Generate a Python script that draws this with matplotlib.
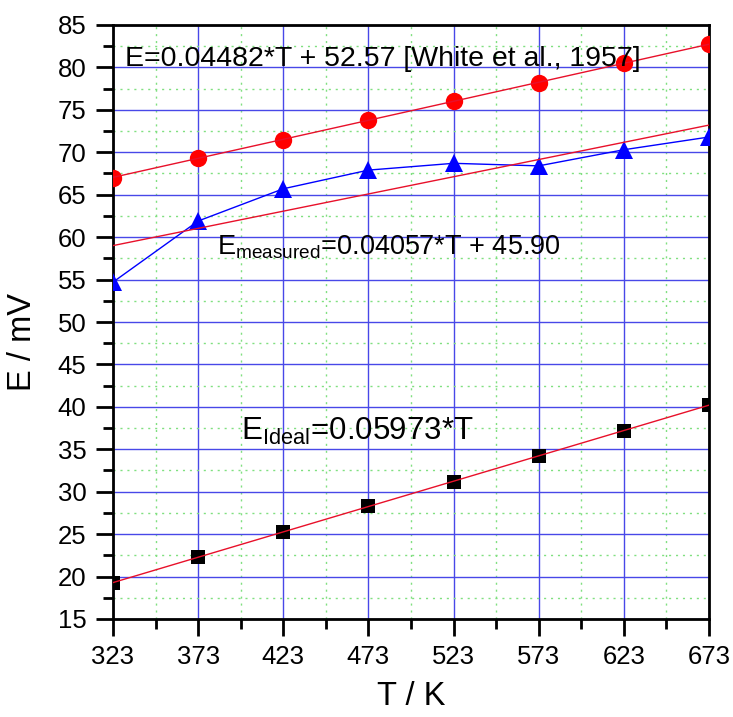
import matplotlib
matplotlib.use("Agg")
import matplotlib.pyplot as plt
import numpy as np
from matplotlib.ticker import MultipleLocator, FixedLocator

plt.rcParams['font.family'] = ['Liberation Sans', 'DejaVu Sans']
plt.rcParams['mathtext.fontset'] = 'custom'
plt.rcParams['mathtext.rm'] = 'Liberation Sans'

T = [323, 373, 423, 473, 523, 573, 623, 673]
E_white = [67.0, 69.3, 71.5, 73.8, 76.0, 78.2, 80.5, 82.8]
E_measured = [54.7, 61.9, 65.7, 67.9, 68.7, 68.4, 70.3, 71.8]
E_ideal = [19.3, 22.3, 25.3, 28.3, 31.2, 34.2, 37.2, 40.2]

fit_white = (0.04482, 52.57)
fit_measured = (0.04057, 45.90)
fit_ideal = (0.05973, 0.0)

fig = plt.figure(figsize=(7.33, 7.17), dpi=100)
ax = fig.add_axes([113/733, 1-619/717, (709-113)/733, (619-25)/717])

ax.set_xlim(323, 673)
ax.set_ylim(15, 85)
ax.xaxis.set_major_locator(FixedLocator(np.arange(323, 674, 50)))
ax.xaxis.set_minor_locator(FixedLocator(np.arange(348, 674, 50)))
ax.yaxis.set_major_locator(MultipleLocator(5))
ax.yaxis.set_minor_locator(MultipleLocator(2.5))

ax.grid(which='major', color='#4848e8', linestyle='-', linewidth=1.0, zorder=0)
ax.grid(which='minor', color='#80e080', linestyle=(0, (1.5, 3.5)), linewidth=1.0, zorder=0)
ax.set_axisbelow(True)

Tarr = np.array([323, 673])
for (a, b) in (fit_white, fit_measured, fit_ideal):
    ax.plot(Tarr, a*Tarr + b, color='#e8102a', linewidth=1.0, zorder=4)

ax.plot(T, E_white, 'o', color='#ff0000', markersize=12.5, markeredgewidth=0, zorder=3)
ax.plot(T, E_measured, '-^', color='#0000ff', markersize=12.5, linewidth=1.0,
        markeredgewidth=0, zorder=3)
ax.plot(T, E_ideal, 's', color='black', markersize=10, markeredgewidth=0, zorder=3)

ax.text(330, 80.2, 'E=0.04482*T + 52.57 [White et al., 1957]', fontsize=20.5,
        color='black', zorder=5)
ax.text(384, 57.9, r'E$_{\mathrm{measured}}$=0.04057*T + 45.90', fontsize=19.5,
        color='black', zorder=5)
ax.text(398, 36.1, r'E$_{\mathrm{Ideal}}$=0.05973*T', fontsize=22.5,
        color='black', zorder=5)

for s in ax.spines.values():
    s.set_linewidth(2.0)
ax.tick_params(which='major', direction='out', length=12, width=2.0,
               labelsize=18.5, pad=7, top=False, right=False)
ax.tick_params(which='minor', direction='out', length=7, width=2.0,
               top=False, right=False)

ax.set_xlabel('T / K', fontsize=23.5)
ax.set_ylabel('E / mV', fontsize=23.5)
ax.xaxis.set_label_coords(0.5, (619-681)/594)
ax.yaxis.set_label_coords((38-113)/596, (619-342)/594)

fig.savefig('out.png', dpi=100)
